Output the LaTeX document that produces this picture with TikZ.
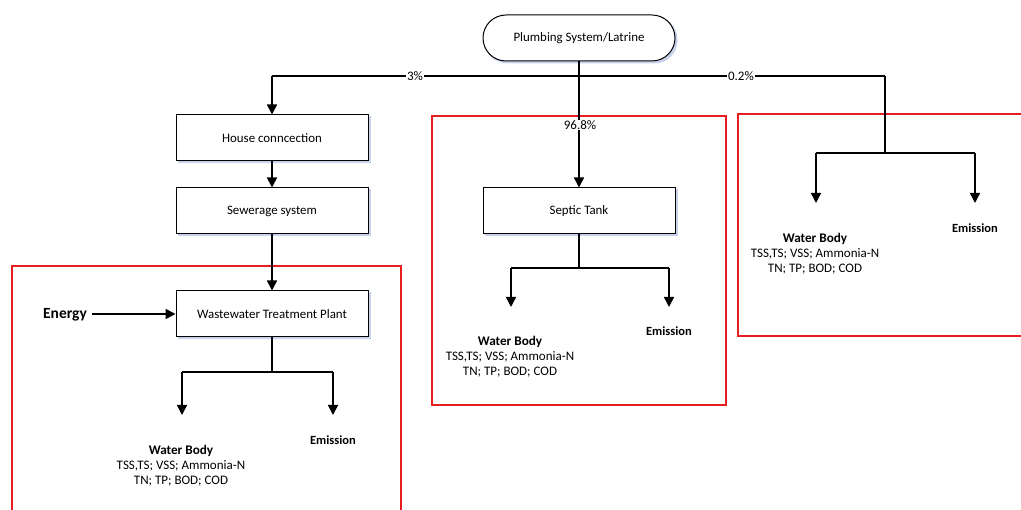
\documentclass[tikz,border=0pt]{standalone}
\usepackage{fontspec}
\setmainfont{Carlito}
\usetikzlibrary{arrows.meta}
\definecolor{zonered}{RGB}{232,30,30}
\definecolor{shadowblue}{RGB}{200,210,235}
\begin{document}
\begin{tikzpicture}[x=1pt,y=-1pt,
  box/.style={draw, line width=1pt, minimum width=192pt, minimum height=46pt,
    font=\fontsize{12.9}{14}\selectfont, fill=white},
  shadowbox/.style={fill=shadowblue, draw=none, minimum width=193pt, minimum height=47pt},
  flow/.style={line width=1.5pt, -{Triangle[length=10pt,width=10pt]}},
  plain/.style={line width=1.5pt},
  pct/.style={fill=white, inner sep=1pt, font=\fontsize{13}{14}\selectfont},
  zone/.style={draw=zonered, line width=1.2pt},
  wb/.style={align=center, font=\fontsize{13}{15}\selectfont},
  em/.style={font=\fontsize{12.5}{14}\selectfont\bfseries}]
\useasboundingbox (0,0) rectangle (1021,510);
% zones
\draw[zone] (12,266) rectangle (401,512);
\draw[zone] (432,116) rectangle (726,405);
\draw[zone] (738,114) rectangle (1030,336);
% shadows
\node[shadowbox, rounded corners=23pt] (topsh) at (581,40) {};
\node[shadowbox] (housesh) at (274,140) {};
\node[shadowbox] (sewersh) at (274,213) {};
\node[shadowbox] (wwtpsh) at (274,316) {};
\node[shadowbox] (septicsh) at (581,213) {};
% top node
\node[box, rounded corners=23pt] (top) at (579,38) {Plumbing System/Latrine};
% boxes
\node[box] (house) at (272,138) {House conncection};
\node[box] (sewer) at (272,211) {Sewerage system};
\node[box] (wwtp) at (272,314) {Wastewater Treatment Plant};
\node[box] (septic) at (579,211) {Septic Tank};
% junctions
\coordinate (j0) at (579,76);
\coordinate (jl) at (272,76);
\coordinate (jr) at (885,76);
\draw[plain] (top.south) -- (j0);
\draw[plain] (jl) -- (jr);
\draw[flow] (jl) -- (house.north);
\draw[flow] (house.south) -- (sewer.north);
\draw[flow] (sewer.south) -- (wwtp.north);
\draw[flow] (j0) -- (septic.north);
\node[pct] (p3) at (415,76) {3\%};
\node[pct] (p02) at (741,76) {0.2\%};
\node[pct] (p968) at (580,125) {96.8\%};
% energy
\node[font=\fontsize{15.5}{17}\selectfont\bfseries] (energy) at (65,315) {Energy};
\coordinate (es) at (92,314);
\draw[flow] (es) -- (wwtp.west);
% WWTP outputs
\coordinate (wj) at (272,372);
\coordinate (wl) at (182,372);
\coordinate (wr) at (333,372);
\coordinate (wla) at (182,415);
\coordinate (wra) at (333,415);
\draw[plain] (wwtp.south) -- (wj);
\draw[plain] (wl) -- (wr);
\draw[flow] (wl) -- (wla);
\draw[flow] (wr) -- (wra);
\node[wb] (wb1) at (181,466) {\textbf{\fontsize{13.2}{15}\selectfont Water Body}\\TSS,TS; VSS; Ammonia-N\\TN; TP; BOD; COD};
\node[em] (em1) at (333,440) {Emission};
% Septic outputs
\coordinate (sj) at (579,268);
\coordinate (sl) at (511,268);
\coordinate (sr) at (669,268);
\coordinate (sla) at (511,307);
\coordinate (sra) at (669,307);
\draw[plain] (septic.south) -- (sj);
\draw[plain] (sl) -- (sr);
\draw[flow] (sl) -- (sla);
\draw[flow] (sr) -- (sra);
\node[wb] (wb2) at (510,357) {\textbf{\fontsize{13.2}{15}\selectfont Water Body}\\TSS,TS; VSS; Ammonia-N\\TN; TP; BOD; COD};
\node[em] (em2) at (669,331) {Emission};
% right outputs
\coordinate (rj) at (885,153);
\coordinate (rl) at (816,153);
\coordinate (rr) at (975,153);
\coordinate (rla) at (816,203);
\coordinate (rra) at (975,203);
\draw[plain] (jr) -- (rj);
\draw[plain] (rl) -- (rr);
\draw[flow] (rl) -- (rla);
\draw[flow] (rr) -- (rra);
\node[wb] (wb3) at (815,254) {\textbf{\fontsize{13.2}{15}\selectfont Water Body}\\TSS,TS; VSS; Ammonia-N\\TN; TP; BOD; COD};
\node[em] (em3) at (975,228) {Emission};
\end{tikzpicture}
\end{document}
